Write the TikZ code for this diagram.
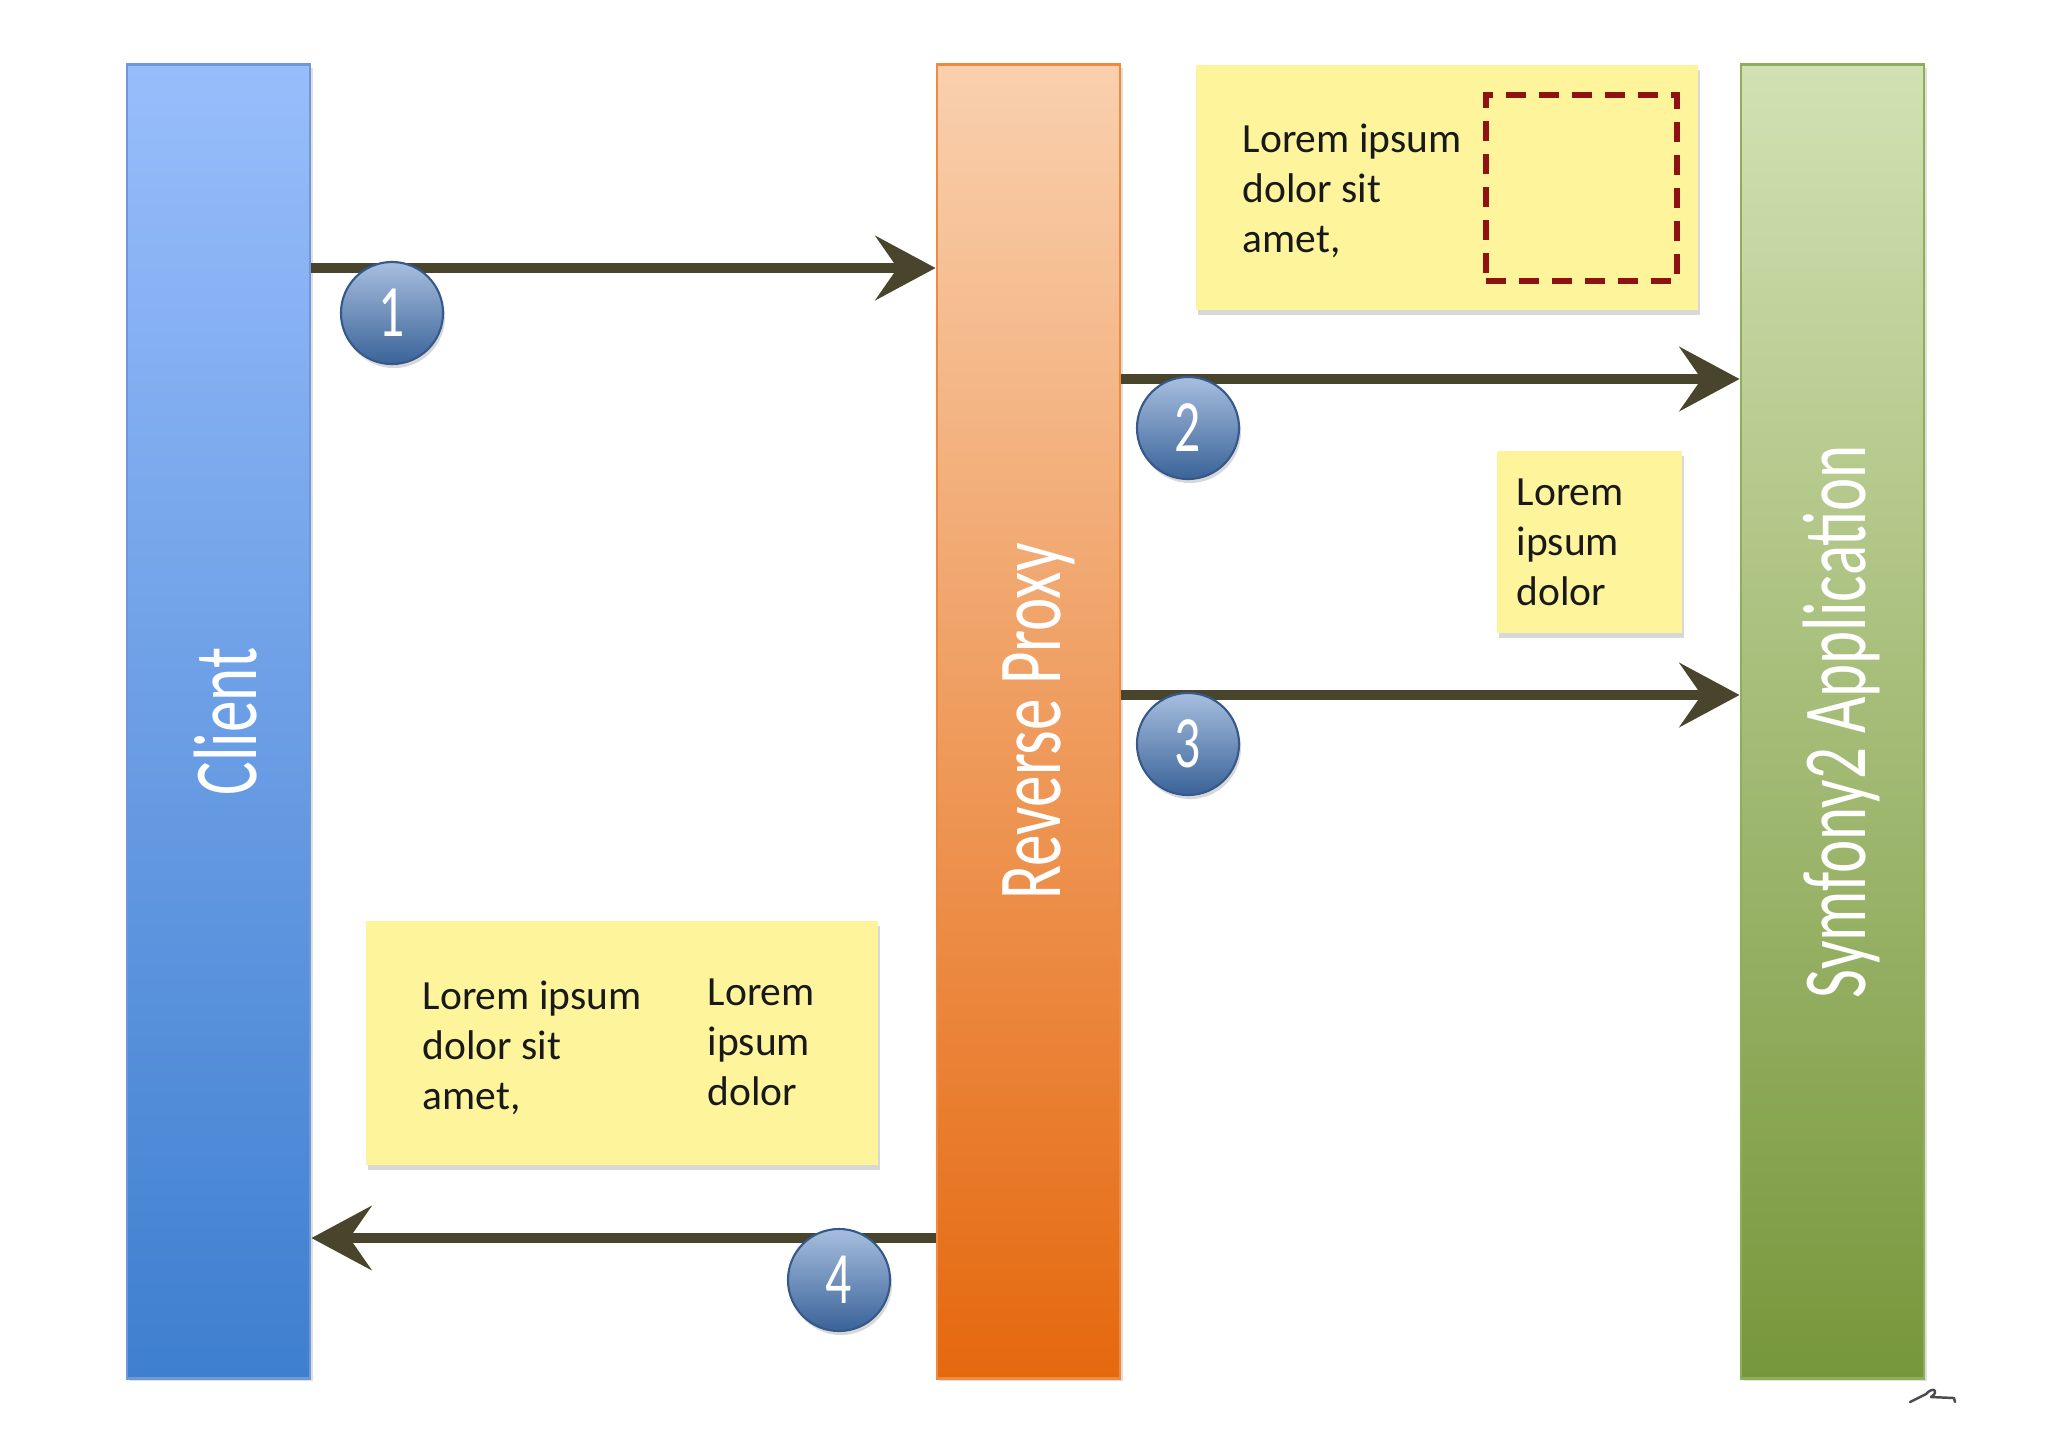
\documentclass[tikz,border=0pt]{standalone}
\usepackage{fontspec}
\setmainfont{Carlito}
\newfontfamily\condfont[FakeStretch=0.7]{Carlito}
\usetikzlibrary{arrows.meta,shadows,shadings}

\definecolor{clientTop}{HTML}{98BDFB}
\definecolor{clientBot}{HTML}{3E7FCF}
\definecolor{clientLine}{HTML}{6E98D8}
\definecolor{proxyTop}{HTML}{F9D0AE}
\definecolor{proxyBot}{HTML}{E5680E}
\definecolor{proxyLine}{HTML}{EF8A3E}
\definecolor{appTop}{HTML}{D2E1B3}
\definecolor{appBot}{HTML}{77973B}
\definecolor{appLine}{HTML}{8FAE5A}
\definecolor{arrowCol}{HTML}{48452C}
\definecolor{noteFill}{HTML}{FDF49C}
\definecolor{dashRed}{HTML}{8E1212}
\definecolor{ballTop}{HTML}{A7BEDF}
\definecolor{ballBot}{HTML}{3A6398}
\definecolor{ballLine}{HTML}{35598A}

\tikzset{
  bar/.style={rectangle, inner sep=0pt, minimum width=1.83cm, minimum height=13.13cm,
    line width=0.8pt, drop shadow={shadow xshift=0.03cm, shadow yshift=-0.03cm, opacity=0.25}},
  barlabel/.style={rotate=90, text=white, font=\condfont\fontsize{25.6}{30}\selectfont, inner sep=0pt},
  note/.style={rectangle, fill=noteFill, inner sep=0pt,
    drop shadow={shadow xshift=0.02cm, shadow yshift=-0.05cm, opacity=0.3}},
  notetext/.style={align=left, inner sep=0pt, text=black!90, font=\fontsize{11.8}{14.2}\selectfont},
  flow/.style={draw=arrowCol, line width=0.1cm,
    -{Stealth[length=0.6cm, width=0.64cm, inset=0.22cm]}},
  ball/.style={circle, inner sep=0pt, minimum size=1.02cm, draw=ballLine, line width=0.6pt,
    top color=ballTop, bottom color=ballBot, text=white,
    font=\condfont\fontsize{21}{24}\selectfont,
    drop shadow={shadow xshift=0.02cm, shadow yshift=-0.04cm, opacity=0.3}},
  dashbox/.style={rectangle, draw=dashRed, line width=1.5pt, dash pattern=on 0.2cm off 0.13cm,
    inner sep=0pt, minimum width=1.91cm, minimum height=1.86cm}
}

\begin{document}
\begin{tikzpicture}[x=0.01cm, y=-0.01cm]
\fill[white] (0,0) rectangle (2048,1447);
\useasboundingbox (0,0) rectangle (2048,1447);

% bars
\node[bar, draw=clientLine, top color=clientTop, bottom color=clientBot] (client) at (218.5,721.5) {};
\node[bar, draw=proxyLine, top color=proxyTop, bottom color=proxyBot] (proxy) at (1028.5,721.5) {};
\node[bar, draw=appLine, top color=appTop, bottom color=appBot] (app) at (1832.5,721.5) {};

\node[barlabel] (clientlabel) at ([xshift=0.07cm]client.center) {Client};
\node[barlabel] (proxylabel) at ([xshift=0.1cm]proxy.center) {Reverse Proxy};
\node[barlabel] (applabel) at ([xshift=0.09cm]app.center) {Symfony2 Application};

% notes
\node[note, minimum width=5.02cm, minimum height=2.45cm] (notetop) at (1447,187.5) {};
\node[dashbox] (dash) at (1581.5,188) {};
\node[notetext, anchor=west] (notetoptext) at (1242,191) {Lorem ipsum\\dolor sit\\amet,};

\node[note, minimum width=1.85cm, minimum height=1.82cm] (notemid) at (1589.5,542) {};
\node[notetext, anchor=west] (notemidtext) at (1516,542) {Lorem\\ipsum\\dolor};

\node[note, minimum width=5.12cm, minimum height=2.44cm] (notebot) at (622,1043) {};
\node[notetext, anchor=west] (notebottext1) at (422,1048) {Lorem ipsum\\dolor sit\\amet,};
\node[notetext, anchor=west] (notebottext2) at (707,1042) {Lorem\\ipsum\\dolor};

% arrow levels
\coordinate (y1) at (0,268);
\coordinate (y2) at (0,379);
\coordinate (y3) at (0,695);
\coordinate (y4) at (0,1238);

\draw[flow] (client.east |- y1) -- (proxy.west |- y1);
\draw[flow] (proxy.east |- y2) -- (app.west |- y2);
\draw[flow] (proxy.east |- y3) -- (app.west |- y3);
\draw[flow] (proxy.west |- y4) -- (client.east |- y4);

% step balls
\node[ball] (b1) at (392,313) {1};
\node[ball] (b2) at (1188,428) {2};
\node[ball] (b3) at (1188,744) {3};
\node[ball] (b4) at (839,1280) {4};

% small stray mark
\draw[black!70, line width=0.7pt, line cap=round, line join=round]
  (1910,1402) -- (1926,1394) .. controls (1933,1386) and (1940,1391) .. (1931,1397) -- (1954,1398) -- (1955,1402);
\end{tikzpicture}
\end{document}
